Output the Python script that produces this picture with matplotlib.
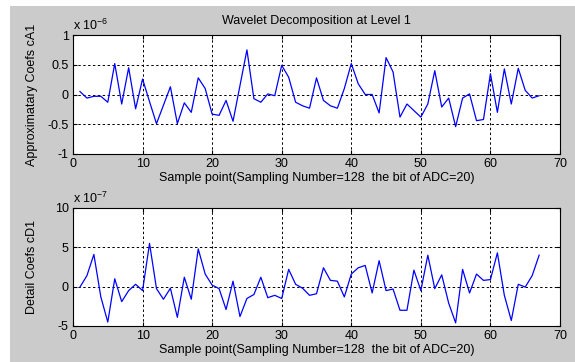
import matplotlib
matplotlib.use("Agg")
import matplotlib.pyplot as plt
import numpy as np

# Data (top in units of 1e-6, bottom in units of 1e-7)
x_points = list(range(1, 68))
cA1 = [0.05, -0.06, -0.03, -0.03, -0.13, 0.52, -0.16, 0.45, -0.24, 0.26,
       -0.12, -0.49, -0.18, 0.13, -0.49, -0.14, -0.30, 0.28, 0.10, -0.33,
       -0.35, -0.10, -0.45, 0.15, 0.75, -0.07, -0.13, 0.01, -0.02, 0.49,
       0.29, -0.13, -0.19, -0.23, 0.28, -0.10, -0.19, -0.23, 0.10, 0.52,
       0.18, 0.00, 0.00, -0.31, 0.62, 0.38, -0.38, -0.16, -0.27, -0.38,
       -0.16, 0.40, -0.21, -0.06, -0.54, -0.06, 0.01, -0.44, -0.42, 0.35,
       -0.30, 0.43, -0.16, 0.44, 0.07, -0.06, -0.02]
cD1 = [-0.05, 1.4, 4.1, -1.3, -4.5, 1.0, -1.9, -0.5, 0.3, -0.5,
       5.5, -0.25, -1.6, -0.2, -3.9, 1.2, -1.6, 4.8, 1.6, 0.2,
       -0.25, -2.9, 0.7, -3.8, -1.5, -1.0, 1.2, -1.4, -1.1, -1.5,
       2.2, 0.3, -0.2, -1.1, -0.9, 2.4, 0.8, 0.7, -1.3, 1.6,
       2.4, 2.7, -0.8, 3.3, -0.5, -0.3, -3.0, -3.0, 2.1, -0.5,
       4.0, -0.25, 1.5, -2.1, -4.6, 2.2, -0.8, 1.6, 0.8, 0.9,
       4.3, -1.1, -4.3, 0.3, -0.05, 1.4, 4.0]
xticks = [0, 10, 20, 30, 40, 50, 60, 70]
top_yticks = [-1, -0.5, 0, 0.5, 1]
top_yticklabels = ["-1", "-0.5", "0", "0.5", "1"]
bot_yticks = [-5, 0, 5, 10]
bot_yticklabels = ["-5", "0", "5", "10"]
title = "Wavelet Decomposition at Level 1"
xlabel = "Sample point(Sampling Number=128  the bit of ADC=20)"
top_ylabel = "Approximatary Coefs cA1"
bot_ylabel = "Detail Coefs cD1"

plt.rcParams['font.family'] = ['Liberation Sans', 'DejaVu Sans']
plt.rcParams['mathtext.fontset'] = 'custom'
plt.rcParams['mathtext.rm'] = 'Liberation Sans'
plt.rcParams['mathtext.it'] = 'Liberation Sans'

bg = '#cbcbcb'
fig = plt.figure(figsize=(5.75, 3.62), dpi=100)
fig.patch.set_facecolor('white')
# gray panel (white strips at top and left as in the screenshot)
fig.patches.append(plt.Rectangle((10/575, 0), 1, 1 - 6/362, transform=fig.transFigure,
                                 facecolor=bg, edgecolor='none', zorder=-10))

fs = 9

def style(ax, yticks, yticklabels, ylim):
    ax.set_xlim(0, 70)
    ax.set_ylim(*ylim)
    ax.set_xticks(xticks)
    ax.set_xticklabels([str(t) for t in xticks], fontsize=fs)
    ax.set_yticks(yticks)
    ax.set_yticklabels(yticklabels, fontsize=fs)
    ax.tick_params(direction='in', top=True, right=True, length=3, width=0.8, pad=3)
    ax.grid(True, color='black', linestyle=(0, (2.5, 2.5)), linewidth=0.7)
    for s in ax.spines.values():
        s.set_linewidth(0.8)
    ax.set_facecolor('white')

ax1 = fig.add_axes([73/575, 1 - 154/362, 487/575, 119/362])
ax1.plot(x_points, cA1, color='#0000ff', linewidth=0.9)
style(ax1, top_yticks, top_yticklabels, (-1, 1))
ax1.set_xlabel(xlabel, fontsize=fs, labelpad=1)
ax1.set_ylabel(top_ylabel, fontsize=fs, labelpad=7)
ax1.set_title(title, fontsize=fs, pad=8)
ax1.text(0.0, 1.02, r'x 10$^{-6}$', transform=ax1.transAxes, fontsize=fs,
         ha='left', va='bottom')

ax2 = fig.add_axes([73/575, 1 - 326/362, 487/575, 118/362])
ax2.plot(x_points, cD1, color='#0000ff', linewidth=0.9)
style(ax2, bot_yticks, bot_yticklabels, (-5, 10))
ax2.set_xlabel(xlabel, fontsize=fs, labelpad=1)
ax2.set_ylabel(bot_ylabel, fontsize=fs, labelpad=12)
ax2.text(0.0, 1.02, r'x 10$^{-7}$', transform=ax2.transAxes, fontsize=fs,
         ha='left', va='bottom')

fig.savefig('out.png', dpi=100, facecolor=fig.get_facecolor())
